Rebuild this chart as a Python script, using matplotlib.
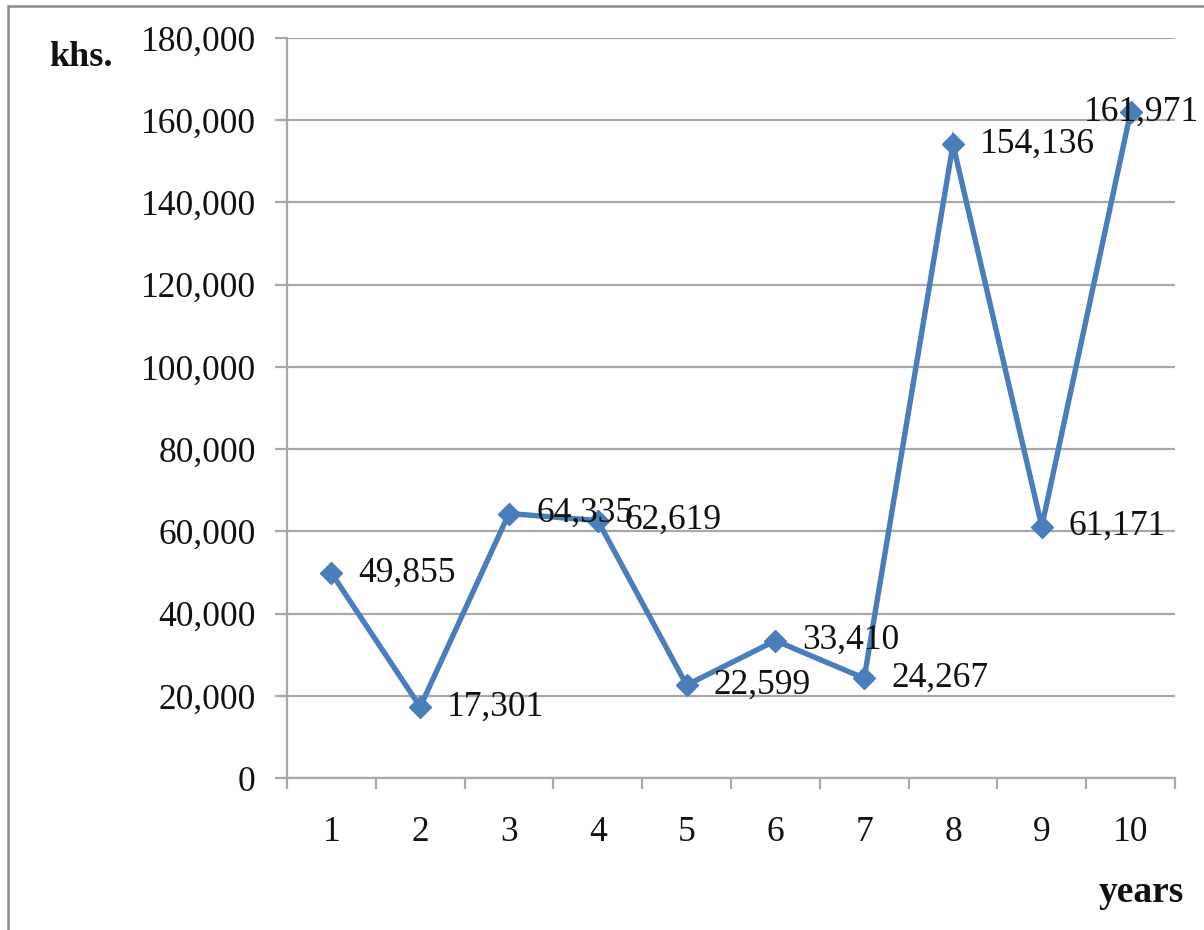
import matplotlib
matplotlib.use("Agg")
import matplotlib.pyplot as plt
from matplotlib.patches import Rectangle
from matplotlib.ticker import FuncFormatter, FixedLocator

# Values by year (thousand sums)
years = [1, 2, 3, 4, 5, 6, 7, 8, 9, 10]
values = [49855, 17301, 64335, 62619, 22599, 33410, 24267, 154136, 61171, 161971]
year_labels = ["1", "2", "3", "4", "5", "6", "7", "8", "9", "10"]
y_ticks = [0, 20000, 40000, 60000, 80000, 100000, 120000, 140000, 160000, 180000]

LINE = "#4A7EBB"
GRID = "#A8A8A8"
SERIF = ["Liberation Serif", "DejaVu Serif"]

plt.rcParams["font.family"] = SERIF

fig = plt.figure(figsize=(12.04, 9.30), dpi=100)
ax = fig.add_axes([287 / 1204, 1 - 778 / 930, (1175 - 287) / 1204, (778 - 38) / 930])

ax.plot(years, values, color=LINE, lw=3.9, marker="D", markersize=11.5,
        markerfacecolor=LINE, markeredgecolor=LINE, solid_joinstyle="miter", zorder=3)

# value labels to the right of each point; the last one is pulled back inside
for x, v in zip(years, values):
    dx = 19.5 if x != 10 else -34
    ax.annotate(f"{v:,}", (x, v), xytext=(dx, 0), textcoords="offset points",
                ha="left", va="center", fontsize=25.5, color="#111111", zorder=4,
                annotation_clip=False)

ax.set_xlim(0.5, 10.5)
ax.set_ylim(0, 180000)
ax.set_yticks(y_ticks)
ax.yaxis.set_major_formatter(FuncFormatter(lambda v, p: f"{int(v):,}"))
ax.grid(axis="y", color=GRID, lw=1.6, zorder=1)

ax.set_xticks(years)
ax.set_xticklabels(year_labels)
ax.xaxis.set_minor_locator(FixedLocator([i + 0.5 for i in range(0, 11)]))
ax.tick_params(axis="x", which="major", length=0, pad=27, labelsize=25.5, labelcolor="#111111")
ax.tick_params(axis="x", which="minor", length=8, width=1.6, color=GRID, direction="out")
ax.tick_params(axis="y", which="major", length=8.5, width=1.6, color=GRID, pad=14,
               labelsize=25.5, labelcolor="#111111")

for side in ("top", "right"):
    ax.spines[side].set_visible(False)
for side in ("left", "bottom"):
    ax.spines[side].set_color(GRID)
    ax.spines[side].set_linewidth(1.6)

fig.text(49 / 1204, 1 - 57 / 930, "khs.", fontsize=26, fontweight="bold",
         ha="left", va="center", color="#111111")
fig.text(1184 / 1204, 1 - 892 / 930, "years", fontsize=27, fontweight="bold",
         ha="right", va="center", color="#111111")

# outer frame of the chart area
fig.patches.append(Rectangle((8 / 1204, -0.1), 1.2, 1.1 - 6 / 930,
                             transform=fig.transFigure, fill=False,
                             edgecolor="#8C8C8C", lw=1.8, zorder=0))

fig.savefig("out.png", dpi=100)
